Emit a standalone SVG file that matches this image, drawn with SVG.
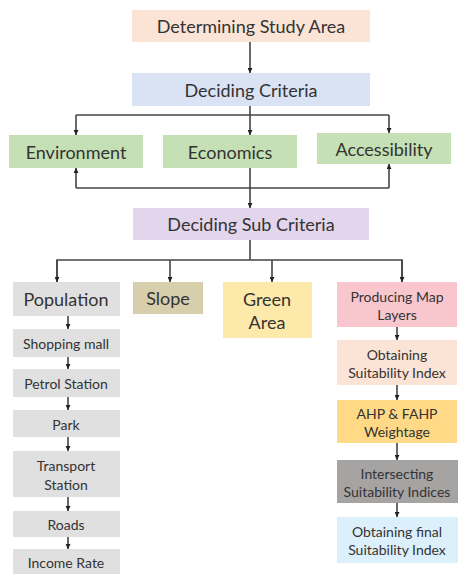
<svg xmlns="http://www.w3.org/2000/svg" width="460" height="574" viewBox="0 0 460 574">
<defs>
<marker id="ah" viewBox="0 0 10 10" refX="10" refY="5" markerWidth="5" markerHeight="5" orient="auto" markerUnits="userSpaceOnUse">
<path d="M0,0 L10,5 L0,10 z" fill="#222"/>
</marker>
<style>
text{font-family:Lato,"Open Sans","Liberation Sans",sans-serif;fill:#333;text-anchor:middle;dominant-baseline:central}
.l{font-size:18px}
.m{font-size:14px}
.c{stroke:#444;stroke-width:1.6;fill:none}
.a{stroke:#444;stroke-width:1.6;fill:none;marker-end:url(#ah)}
</style>
</defs>
<rect width="460" height="574" fill="#fff"/>
<g id="connectors">
<path class="a" d="M250,42 V73"/>
<path class="c" d="M250,106 V115"/>
<path class="c" d="M76,115 H389"/>
<path class="a" d="M76,115 V135"/>
<path class="a" d="M250,115 V135"/>
<path class="a" d="M389,115 V133"/>
<path class="a" d="M76,188 V168"/>
<path class="a" d="M389,188 V164"/>
<path class="c" d="M76,188 H389"/>
<path class="a" d="M250,168 V208"/>
<path class="c" d="M250,240 V260"/>
<path class="c" d="M57,282 V260 H402 V282"/>
<path class="a" d="M57,260 V282"/>
<path class="a" d="M170,260 V282"/>
<path class="a" d="M272,260 V282"/>
<path class="a" d="M402,260 V282"/>
<path class="a" d="M68,316 V329"/>
<path class="a" d="M68,357 V369"/>
<path class="a" d="M68,397 V410"/>
<path class="a" d="M68,437 V451"/>
<path class="a" d="M68,497 V511"/>
<path class="a" d="M68,537 V549"/>
<path class="a" d="M397,327 V340"/>
<path class="a" d="M397,385 V400"/>
<path class="a" d="M397,443 V460"/>
<path class="a" d="M397,503 V517"/>
</g>
<g id="study-area"><rect x="132" y="10" width="238" height="32" fill="#fbe3d6"/><text class="l" x="251" y="26">Determining Study Area</text></g>
<g id="criteria"><rect x="132" y="73" width="238" height="33" fill="#dae3f3"/><text class="l" x="251" y="90">Deciding Criteria</text></g>
<g id="environment"><rect x="9" y="135" width="134" height="33" fill="#c5e0b4"/><text class="l" x="76" y="152">Environment</text></g>
<g id="economics"><rect x="163" y="135" width="134" height="33" fill="#c5e0b4"/><text class="l" x="230" y="152">Economics</text></g>
<g id="accessibility"><rect x="317" y="133" width="134" height="31" fill="#c5e0b4"/><text class="l" x="384" y="149">Accessibility</text></g>
<g id="sub-criteria"><rect x="133" y="208" width="236" height="32" fill="#e2d5ec"/><text class="l" x="251" y="224">Deciding Sub Criteria</text></g>
<g id="population"><rect x="13" y="282" width="107" height="34" fill="#e0e0e0"/><text class="l" x="66" y="299">Population</text></g>
<g id="slope"><rect x="133" y="282" width="70" height="32" fill="#d7ceac"/><text class="l" x="168" y="298">Slope</text></g>
<g id="green-area"><rect x="223" y="282" width="89" height="56" fill="#fde9a9"/><text class="l" x="267" y="299">Green</text><text class="l" x="267" y="322">Area</text></g>
<g id="shopping"><rect x="13" y="329" width="107" height="28" fill="#e0e0e0"/><text class="m" x="66" y="343">Shopping mall</text></g>
<g id="petrol"><rect x="13" y="369" width="107" height="28" fill="#e0e0e0"/><text class="m" x="66" y="383">Petrol Station</text></g>
<g id="park"><rect x="13" y="410" width="107" height="27" fill="#e0e0e0"/><text class="m" x="66" y="424">Park</text></g>
<g id="transport"><rect x="13" y="451" width="107" height="46" fill="#e0e0e0"/><text class="m" x="66" y="465">Transport</text><text class="m" x="66" y="484">Station</text></g>
<g id="roads"><rect x="13" y="511" width="107" height="26" fill="#e0e0e0"/><text class="m" x="66" y="524">Roads</text></g>
<g id="income"><rect x="13" y="549" width="107" height="25" fill="#e0e0e0"/><text class="m" x="66" y="562">Income  Rate</text></g>
<g id="map-layers"><rect x="337" y="282" width="120" height="45" fill="#f8c6cc"/><text class="m" x="397" y="296">Producing Map</text><text class="m" x="397" y="314">Layers</text></g>
<g id="suitability-index"><rect x="337" y="340" width="120" height="45" fill="#fbe3d6"/><text class="m" x="397" y="354">Obtaining</text><text class="m" x="397" y="372">Suitability Index</text></g>
<g id="ahp"><rect x="337" y="400" width="120" height="43" fill="#ffd985"/><text class="m" x="397" y="413">AHP &amp; FAHP</text><text class="m" x="397" y="431">Weightage</text></g>
<g id="intersecting"><rect x="337" y="460" width="121" height="43" fill="#a6a3a3"/><text class="m" x="397" y="473">Intersecting</text><text class="m" x="397" y="491">Suitability Indices</text></g>
<g id="final"><rect x="337" y="517" width="121" height="46" fill="#dcf0fb"/><text class="m" x="397" y="531">Obtaining final</text><text class="m" x="397" y="549">Suitability Index</text></g>
</svg>
